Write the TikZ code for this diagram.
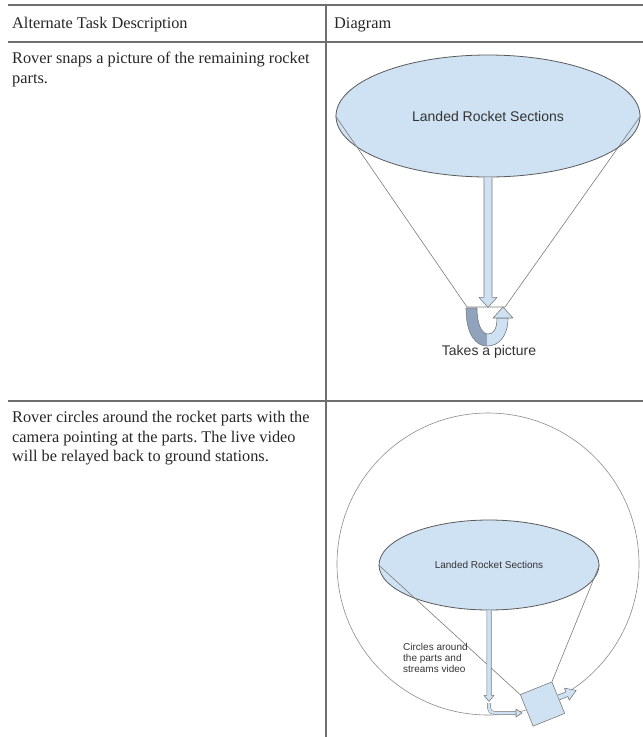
\documentclass[tikz,border=0pt]{standalone}
\usepackage{fontspec}
\setmainfont{Liberation Serif}
\newfontfamily\diagfont{Liberation Sans}
\usetikzlibrary{shapes.geometric}
\frenchspacing

\definecolor{rockblue}{HTML}{CFE2F3}
\definecolor{edgegray}{HTML}{5A5A5A}
\definecolor{rulegray}{HTML}{6E6E6E}
\definecolor{turndark}{HTML}{8FA3BC}

\tikzset{
  rule/.style={draw=rulegray, line width=1.5pt},
  cell/.style={anchor=west, inner sep=0pt, align=left, text=black!85,
    font=\fontsize{16.3}{19.5}\selectfont},
  rocks/.style={ellipse, draw=edgegray, fill=rockblue, inner sep=0pt, line width=0.8pt},
  cone/.style={draw=edgegray!80, line width=0.6pt},
  block/.style={draw=edgegray!80, fill=rockblue, line width=0.6pt, line join=round},
  pipe/.style={draw=edgegray!80, double=rockblue, double distance=2.6pt, line width=0.5pt},
  lbl/.style={font=\diagfont, text=black!80, inner sep=0pt}
}

\begin{document}
\begin{tikzpicture}[x=1pt,y=-1pt]
  \useasboundingbox (0,0) rectangle (643,737);

  % table
  \draw[rule] (8,5) -- (643,5);
  \draw[rule] (8,42) -- (643,42);
  \draw[rule] (8,401) -- (643,401);
  \draw[rule] (326,5) -- (326,737);

  \node[cell] (head1) at (12,25) {Alternate Task Description};
  \node[cell] (head2) at (334,25) {Diagram};
  \node[cell, anchor=north west] (task1) at (12,52)
    {Rover snaps a picture of the remaining rocket\\parts.};
  \node[cell, anchor=north west] (task2) at (12,411)
    {Rover circles around the rocket parts with the\\camera pointing at the parts. The live video\\will be relayed back to ground stations.};

  % picture of the parts
  \node[rocks, minimum width=304, minimum height=122,
    font=\diagfont\fontsize{14}{16}\selectfont, text=black!80] (rocksA) at (488,116) {Landed Rocket Sections};
  \coordinate (eyeL) at (467,307);
  \coordinate (eyeR) at (505,307);
  \draw[cone] (rocksA.west) -- (eyeL) -- (eyeR) -- (rocksA.east);

  \begin{scope}[shift={(rocksA.south)}]
    \draw[block] (-4,0) -- (-4,120) -- (-9,120) -- (0,130) -- (9,120) -- (4,120) -- (4,0);
  \end{scope}

  \def\turn{(466,308) .. controls (466,335) and (476,346) .. (487,346)
    .. controls (499,346) and (508,336) .. (508,318) -- (497,318)
    .. controls (497,330) and (493,334) .. (488,334)
    .. controls (482,334) and (477,325) .. (477,308) -- cycle}
  \fill[turndark] \turn;
  \begin{scope}
    \clip (487,300) rectangle (520,360);
    \fill[rockblue] \turn;
  \end{scope}
  \draw[edgegray!80, line width=0.6pt] \turn;
  \draw[block] (493,318) -- (503,307) -- (513,318) -- cycle;

  \node[lbl, font=\diagfont\fontsize{14}{16}\selectfont] (snap) at (489,352) {Takes a picture};

  % circling with the camera
  \node[circle, draw=edgegray!70, line width=0.6pt, minimum size=302pt, inner sep=0pt] (orbit) at (488,564) {};
  \node[rocks, minimum width=220, minimum height=90,
    font=\diagfont\fontsize{10}{12}\selectfont, text=black!80] (rocksB) at (489,565) {Landed Rocket Sections};
  \node[draw=edgegray!80, fill=rockblue, line width=0.6pt, minimum size=34pt,
    inner sep=0pt, rotate=22] (cam) at (542.5,704) {};
  \draw[cone] (rocksB.west) -- (cam.north west);
  \draw[cone] (rocksB.east) -- (cam.north east);

  \node[lbl, anchor=north west, align=left, font=\diagfont\fontsize{10}{11}\selectfont] (circling) at (403,643)
    {Circles around\\the parts and\\streams video};

  \begin{scope}[shift={(rocksB.south)}]
    \draw[block] (-2.2,0) -- (-2.2,85) -- (-5,85) -- (0,91) -- (5,85) -- (2.2,85) -- (2.2,0);
  \end{scope}
  \draw[pipe, rounded corners=5pt] (489,703) -- (489,713) -- (517,713);
  \draw[block] (516,709) -- (522,713) -- (516,717) -- cycle;

  \begin{scope}[shift={(cam.east)}, rotate=22]
    \draw[block] (0,-2.5) -- (9,-2.5) -- (9,-6.5) -- (19,0) -- (9,6.5) -- (9,2.5) -- (0,2.5);
  \end{scope}
\end{tikzpicture}
\end{document}
